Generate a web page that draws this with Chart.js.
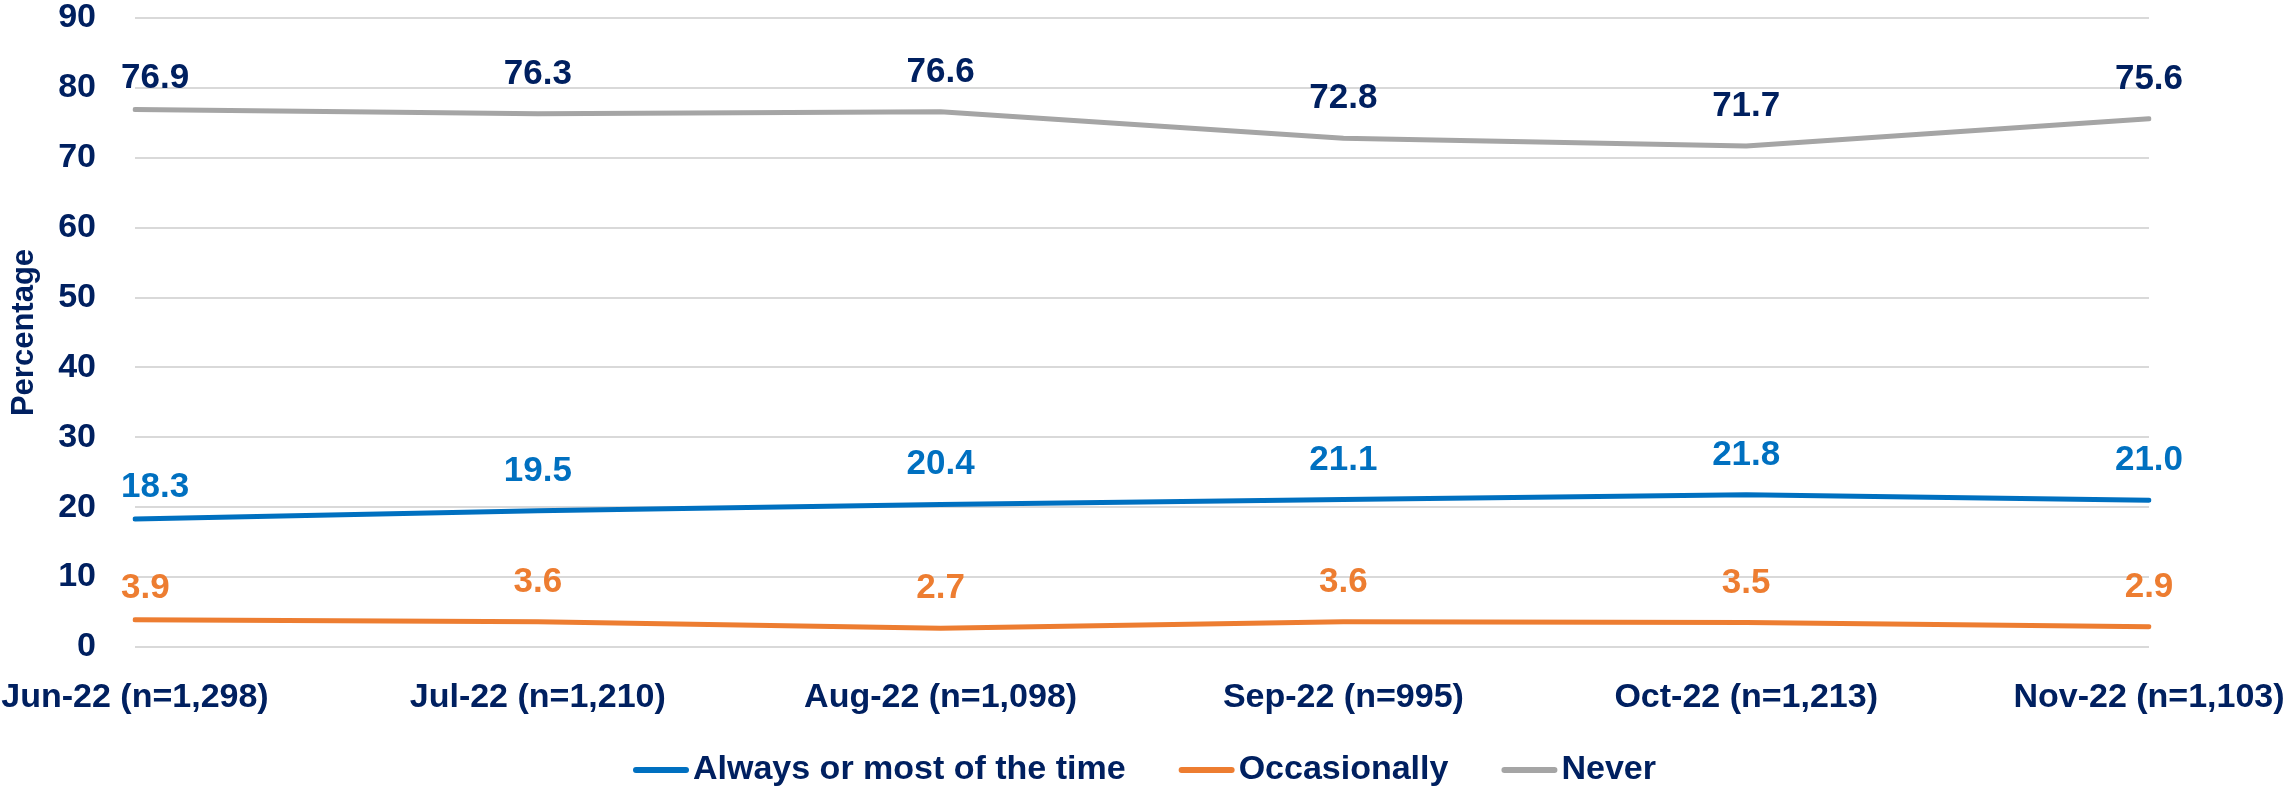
<!DOCTYPE html>
<html>
<head>
<meta charset="utf-8">
<script src="https://cdn.jsdelivr.net/npm/chart.js@4.4.1/dist/chart.umd.min.js"></script>
<style>
  html, body { margin: 0; padding: 0; background: #fff; }
  #wrap { width: 2290px; height: 788px; position: relative; }
</style>
</head>
<body>
<div id="wrap"><canvas id="chart"></canvas></div>
<script>
const months = ['Jun-22 (n=1,298)', 'Jul-22 (n=1,210)', 'Aug-22 (n=1,098)', 'Sep-22 (n=995)', 'Oct-22 (n=1,213)', 'Nov-22 (n=1,103)'];
const always = [18.3, 19.5, 20.4, 21.1, 21.8, 21.0];
const occasionally = [3.9, 3.6, 2.7, 3.6, 3.5, 2.9];
const never = [76.9, 76.3, 76.6, 72.8, 71.7, 75.6];
const seriesNames = ['Always or most of the time', 'Occasionally', 'Never'];
const yTicks = [0, 10, 20, 30, 40, 50, 60, 70, 80, 90];

const navy = '#002060';
const FONT = "'Liberation Sans', Arial, sans-serif";

// value labels above each point
const pointLabels = {
    id: 'pointLabels',
    afterDatasetsDraw(chart) {
        const ctx = chart.ctx;
        const area = chart.chartArea;
        ctx.save();
        ctx.font = 'bold 35px ' + FONT;
        ctx.textAlign = 'center';
        ctx.textBaseline = 'alphabetic';
        chart.data.datasets.forEach((ds, i) => {
            const meta = chart.getDatasetMeta(i);
            meta.data.forEach((pt, j) => {
                const txt = ds.data[j].toFixed(1);
                const w = ctx.measureText(txt).width;
                const x = Math.max(pt.x, area.left - 14 + w / 2);
                const off = j === 0 ? 22 : 30;
                ctx.fillStyle = ds.labelColor;
                ctx.fillText(txt, x, pt.y - off);
            });
        });
        ctx.restore();
    }
};

// legend drawn under the plot, left of centre like the original
const bottomLegend = {
    id: 'bottomLegend',
    afterDraw(chart) {
        const ctx = chart.ctx;
        let x = 633;
        const y = 770;
        ctx.save();
        ctx.font = 'bold 34px ' + FONT;
        ctx.textBaseline = 'middle';
        ctx.textAlign = 'left';
        chart.data.datasets.forEach(ds => {
            ctx.strokeStyle = ds.borderColor;
            ctx.lineWidth = 6;
            ctx.lineCap = 'round';
            ctx.beginPath();
            ctx.moveTo(x + 3, y);
            ctx.lineTo(x + 53, y);
            ctx.stroke();
            ctx.fillStyle = navy;
            ctx.fillText(ds.label, x + 60, y);
            x += 60 + ctx.measureText(ds.label).width + 53;
        });
        ctx.restore();
    }
};

function line(label, data, color, labelColor) {
    return {
        label: label, data: data,
        borderColor: color, backgroundColor: color,
        borderWidth: 5, pointRadius: 0, tension: 0,
        borderCapStyle: 'round', borderJoinStyle: 'round',
        labelColor: labelColor
    };
}

new Chart(document.getElementById('chart'), {
    type: 'line',
    data: {
        labels: months,
        datasets: [
            line(seriesNames[0], always, '#0070C0', '#0070C0'),
            line(seriesNames[1], occasionally, '#ED7D31', '#ED7D31'),
            line(seriesNames[2], never, '#A5A5A5', navy)
        ]
    },
    options: {
        responsive: true,
        maintainAspectRatio: false,
        animation: false,
        layout: { padding: { top: 18, right: 141, left: 0, bottom: 0 } },
        plugins: { legend: { display: false }, tooltip: { enabled: false } },
        scales: {
            x: {
                offset: false,
                // invisible tick length pushes the labels down without adding side padding
                grid: { display: false, drawTicks: true, tickLength: 30 },
                border: { display: false },
                ticks: { color: navy, font: { family: FONT, size: 34, weight: 'bold' }, padding: 0, maxRotation: 0, autoSkip: false },
                afterFit(scale) { scale.height = 141; }
            },
            y: {
                min: 0, max: 90,
                afterBuildTicks(scale) { scale.ticks = yTicks.map(v => ({ value: v })); },
                grid: { color: '#D9D9D9', lineWidth: 2, drawTicks: true, tickLength: 39, tickColor: 'rgba(0,0,0,0)' },
                border: { display: false },
                ticks: { color: navy, font: { family: FONT, size: 34, weight: 'bold', lineHeight: 1 }, padding: 0 },
                title: { display: true, text: 'Percentage', color: navy, font: { family: FONT, size: 31, weight: 'bold' }, padding: { top: 6, bottom: 0 } },
                afterFit(scale) { scale.width = 135; }
            }
        }
    },
    plugins: [pointLabels, bottomLegend]
});
</script>
</body>
</html>
